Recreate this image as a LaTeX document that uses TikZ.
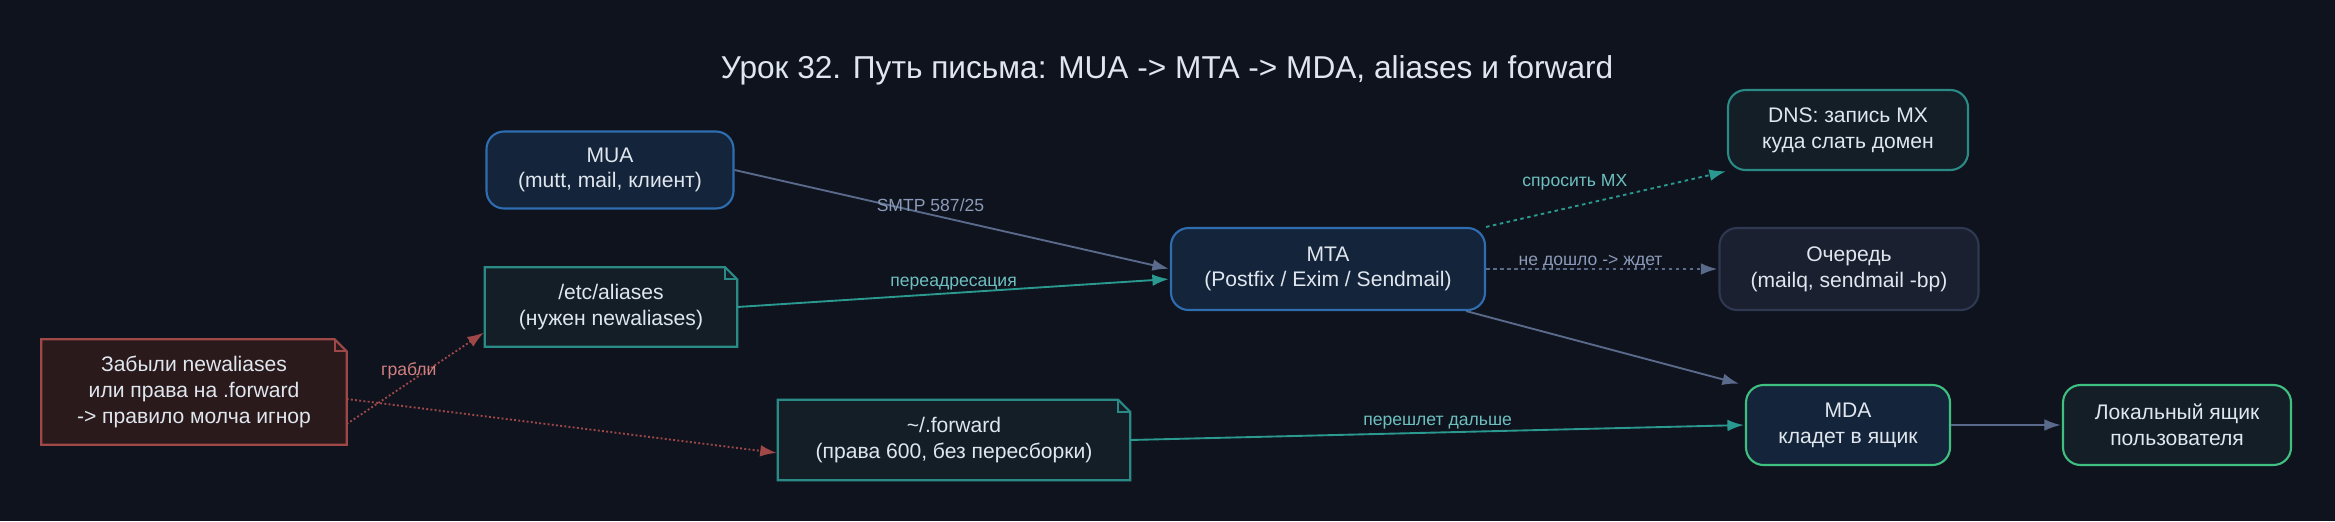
\documentclass[tikz,border=0pt]{standalone}
\usepackage{fontspec}
\setmainfont{Liberation Sans}
\usetikzlibrary{arrows.meta}
\definecolor{bg}{HTML}{0F131E}
\definecolor{txt}{HTML}{E0E6EE}
\definecolor{bluefill}{HTML}{14243A}
\definecolor{blueline}{HTML}{2E6DB0}
\definecolor{tealfill}{HTML}{131E26}
\definecolor{tealline}{HTML}{2A8A86}
\definecolor{redfill}{HTML}{2A1A1C}
\definecolor{redline}{HTML}{A04848}
\definecolor{quefill}{HTML}{1B2030}
\definecolor{queline}{HTML}{2E3850}
\definecolor{greenline}{HTML}{3FBF80}
\definecolor{greyedge}{HTML}{5A6A8A}
\definecolor{tealedge}{HTML}{2A9A90}
\definecolor{greylab}{HTML}{8A9AB8}
\definecolor{teallab}{HTML}{6EC0C0}
\definecolor{redlab}{HTML}{D08080}
\begin{document}
\begin{tikzpicture}[x=0.03cm,y=-0.03cm,font=\fontsize{18}{22}\selectfont,
  box/.style={rounded corners=15pt,align=center,text=txt,line width=1.8pt,inner sep=0pt},
  note/.style={align=center,text=txt,inner sep=0pt},
  link/.style={-{Latex[length=14pt,width=10pt]},line width=1.6pt,shorten >=1pt},
  lab/.style={font=\fontsize{15}{17}\selectfont,inner sep=2pt}]
  \fill[bg] (0,0) rectangle (2335,521);
  \node[text=txt,font=\fontsize{27}{30}\selectfont] (title) at (1167,70) {Урок 32. Путь письма: MUA -> MTA -> MDA, aliases и forward};
  \node[box,draw=blueline,fill=bluefill,minimum width=247*0.03cm,minimum height=77*0.03cm] (mua) at (610,170) {MUA\\(mutt, mail, клиент)};
  \node[box,draw=blueline,fill=bluefill,minimum width=314*0.03cm,minimum height=82*0.03cm] (mta) at (1328,269) {MTA\\(Postfix / Exim / Sendmail)};
  \node[box,draw=tealline,fill=tealfill,minimum width=240*0.03cm,minimum height=80*0.03cm] (dns) at (1848,130) {DNS: запись MX\\куда слать домен};
  \node[box,draw=queline,fill=quefill,minimum width=259*0.03cm,minimum height=82*0.03cm] (queue) at (1849,269) {Очередь\\(mailq, sendmail -bp)};
  \node[box,draw=greenline,fill=bluefill,minimum width=204*0.03cm,minimum height=80*0.03cm] (mda) at (1848,425) {MDA\\кладет в ящик};
  \node[box,draw=greenline,fill=tealfill,minimum width=228*0.03cm,minimum height=80*0.03cm] (local) at (2177,425) {Локальный ящик\\пользователя};
  \node[note,minimum width=252*0.03cm,minimum height=79*0.03cm] (aliases) at (611,307) {};
  \node[note,minimum width=352*0.03cm,minimum height=80*0.03cm] (forward) at (954,440) {};
  \node[note,minimum width=305*0.03cm,minimum height=105*0.03cm] (warn) at (194,392) {};
  % note outlines with folded corner
  \foreach \n/\f/\c in {aliases/tealfill/tealline,forward/tealfill/tealline,warn/redfill/redline}{
    \filldraw[fill=\f,draw=\c,line width=1.8pt] (\n.south west) -- (\n.north west)
      -- ([xshift=-12*0.03cm]\n.north east) -- ([yshift=-12*0.03cm]\n.north east)
      -- (\n.south east) -- cycle;
    \draw[\c,line width=1.5pt] ([xshift=-12*0.03cm]\n.north east) -- ([xshift=-12*0.03cm,yshift=-12*0.03cm]\n.north east) -- ([yshift=-12*0.03cm]\n.north east);
  }
  \node[note] at (aliases) {/etc/aliases\\(нужен newaliases)};
  \node[note] at (forward) {\textasciitilde/.forward\\(права 600, без пересборки)};
  \node[note] at (warn) {Забыли newaliases\\или права на .forward\\-> правило молча игнор};
  % connectors
  \draw[link,greyedge] (mua.east) -- node[lab,above,text=greylab,pos=0.45] {SMTP 587/25} (mta.west);
  \draw[link,tealedge] (aliases.east) -- node[lab,above,text=teallab] {переадресация} ([yshift=-10*0.03cm]mta.west);
  \draw[link,tealedge,dashed] (mta.north east) -- node[lab,above left,text=teallab,pos=0.6] {спросить MX} (dns.south west);
  \draw[link,greyedge,dashed] (mta.east) -- node[lab,text=greylab,pos=0.45,yshift=6pt] {не дошло -> ждет} (queue.west);
  \draw[link,greyedge] ([xshift=-20*0.03cm]mta.south east) -- ([xshift=-5*0.03cm]mda.north west);
  \draw[link,tealedge] (forward.east) -- node[lab,above,text=teallab] {перешлет дальше} (mda.west);
  \draw[link,greyedge] (mda.east) -- (local.west);
  \draw[link,redline,dotted] ([yshift=-32*0.03cm]warn.east) -- node[lab,above,text=redlab,pos=0.45] {грабли} ([yshift=-25*0.03cm]aliases.west);
  \draw[link,redline,dotted] ([yshift=-7*0.03cm]warn.east) -- ([yshift=-13*0.03cm]forward.west);
\end{tikzpicture}
\end{document}
